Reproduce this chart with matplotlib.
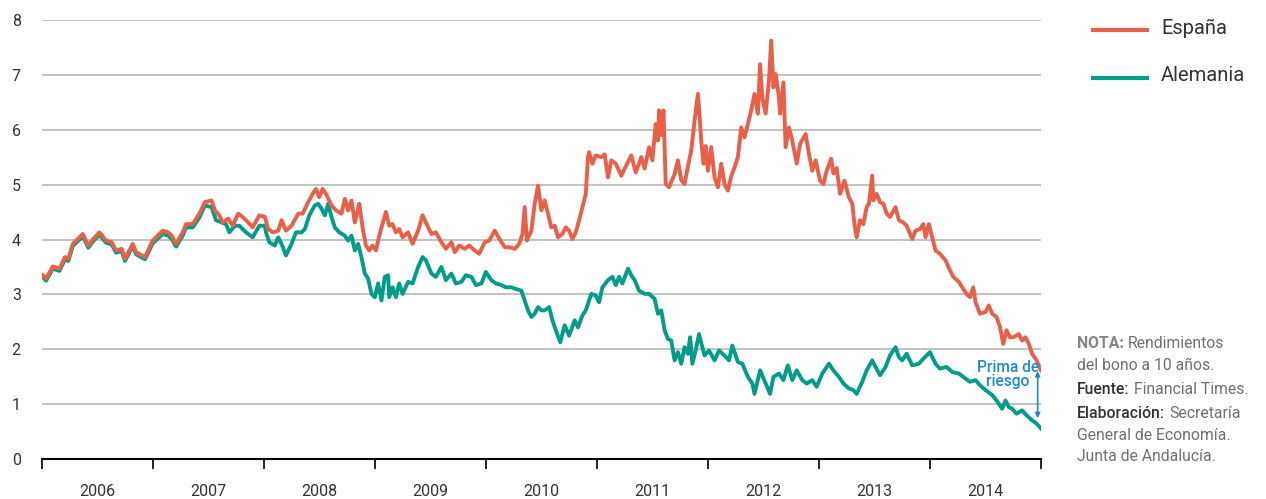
import numpy as np
import matplotlib
matplotlib.use("Agg")
import matplotlib.pyplot as plt
from matplotlib import font_manager
from matplotlib.lines import Line2D

plt.rcParams['font.family'] = ['Roboto', 'DejaVu Sans']

# ---------------- data (decimal years, % yield) ----------------
spain_t = [2006.01, 2006.04, 2006.10, 2006.16, 2006.21, 2006.24, 2006.28, 2006.37, 2006.42, 2006.46,
           2006.52, 2006.58, 2006.63, 2006.67, 2006.72, 2006.75, 2006.82, 2006.85, 2006.93, 2007.00,
           2007.09, 2007.14, 2007.17, 2007.21, 2007.27, 2007.30, 2007.36, 2007.42, 2007.47, 2007.53,
           2007.56, 2007.60, 2007.63, 2007.68, 2007.72, 2007.77, 2007.81, 2007.86, 2007.90, 2007.96,
           2008.01, 2008.04, 2008.08, 2008.13, 2008.16, 2008.20, 2008.25, 2008.31, 2008.35, 2008.40,
           2008.44, 2008.47, 2008.50, 2008.53, 2008.56, 2008.61, 2008.65, 2008.70, 2008.73, 2008.76,
           2008.79, 2008.82, 2008.86, 2008.89, 2008.92, 2008.95, 2008.98, 2009.01, 2009.03, 2009.06,
           2009.10, 2009.13, 2009.16, 2009.19, 2009.22, 2009.25, 2009.30, 2009.34, 2009.39, 2009.43,
           2009.46, 2009.51, 2009.55, 2009.60, 2009.64, 2009.69, 2009.72, 2009.76, 2009.81, 2009.85,
           2009.90, 2009.94, 2009.99, 2010.03, 2010.08, 2010.12, 2010.17, 2010.21, 2010.26, 2010.30,
           2010.33, 2010.35, 2010.37, 2010.41, 2010.44, 2010.47, 2010.50, 2010.53, 2010.56, 2010.59,
           2010.62, 2010.65, 2010.69, 2010.72, 2010.75, 2010.78, 2010.81, 2010.84, 2010.87, 2010.90,
           2010.92, 2010.93, 2010.96, 2010.99, 2011.04, 2011.07, 2011.10, 2011.13, 2011.17, 2011.22,
           2011.26, 2011.31, 2011.35, 2011.40, 2011.43, 2011.47, 2011.50, 2011.53, 2011.55, 2011.56,
           2011.58, 2011.60, 2011.62, 2011.65, 2011.70, 2011.73, 2011.76, 2011.79, 2011.82, 2011.85,
           2011.88, 2011.91, 2011.92, 2011.94, 2011.96, 2011.98, 2012.00, 2012.03, 2012.06, 2012.09,
           2012.12, 2012.15, 2012.18, 2012.21, 2012.24, 2012.27, 2012.30, 2012.33, 2012.36, 2012.39,
           2012.42, 2012.45, 2012.47, 2012.49, 2012.52, 2012.55, 2012.57, 2012.59, 2012.61, 2012.64,
           2012.65, 2012.68, 2012.70, 2012.73, 2012.76, 2012.80, 2012.83, 2012.88, 2012.91, 2012.94,
           2012.97, 2013.01, 2013.04, 2013.07, 2013.11, 2013.13, 2013.16, 2013.19, 2013.23, 2013.27,
           2013.30, 2013.32, 2013.34, 2013.37, 2013.40, 2013.43, 2013.45, 2013.48, 2013.49, 2013.52,
           2013.55, 2013.58, 2013.61, 2013.64, 2013.69, 2013.72, 2013.76, 2013.79, 2013.84, 2013.87,
           2013.91, 2013.94, 2013.96, 2013.99, 2014.02, 2014.05, 2014.09, 2014.14, 2014.18, 2014.21,
           2014.26, 2014.30, 2014.33, 2014.36, 2014.39, 2014.41, 2014.45, 2014.50, 2014.53, 2014.56,
           2014.60, 2014.63, 2014.66, 2014.69, 2014.72, 2014.75, 2014.80, 2014.83, 2014.86, 2014.89,
           2014.92, 2014.96, 2015.00]
spain_v = [3.35, 3.29, 3.51, 3.47, 3.68, 3.65, 3.92, 4.10, 3.89, 4.00,
           4.13, 3.98, 3.95, 3.80, 3.83, 3.65, 3.92, 3.77, 3.68, 3.98,
           4.16, 4.13, 4.07, 3.92, 4.13, 4.28, 4.28, 4.47, 4.68, 4.71,
           4.53, 4.44, 4.31, 4.38, 4.25, 4.47, 4.41, 4.31, 4.22, 4.44,
           4.41, 4.19, 4.13, 4.16, 4.35, 4.16, 4.25, 4.47, 4.47, 4.68,
           4.83, 4.92, 4.77, 4.92, 4.83, 4.62, 4.53, 4.47, 4.74, 4.53,
           4.71, 4.31, 4.65, 4.22, 3.89, 3.80, 3.89, 3.80, 3.98, 4.22,
           4.50, 4.25, 4.28, 4.13, 4.19, 4.04, 4.13, 3.92, 4.16, 4.44,
           4.31, 4.10, 4.13, 3.95, 3.83, 3.95, 3.77, 3.89, 3.83, 3.89,
           3.80, 3.74, 3.95, 3.98, 4.16, 4.02, 3.86, 3.86, 3.83, 3.92,
           4.10, 4.59, 3.98, 4.16, 4.65, 4.98, 4.53, 4.71, 4.47, 4.22,
           4.25, 4.04, 4.10, 4.22, 4.16, 4.01, 4.13, 4.35, 4.59, 4.83,
           5.50, 5.59, 5.38, 5.53, 5.50, 5.55, 5.13, 5.44, 5.38, 5.16,
           5.33, 5.53, 5.22, 5.50, 5.29, 5.68, 5.44, 6.10, 5.80, 6.35,
           5.90, 6.35, 5.01, 4.95, 5.19, 5.44, 5.08, 5.01, 5.33, 5.62,
           6.16, 6.65, 6.40, 5.80, 5.38, 5.70, 5.25, 5.68, 5.13, 4.95,
           5.38, 5.00, 4.89, 5.15, 5.31, 5.50, 6.04, 5.86, 6.10, 6.35,
           6.65, 6.29, 7.19, 6.58, 6.29, 6.89, 7.62, 6.77, 7.01, 6.59,
           6.29, 6.86, 5.68, 6.04, 5.80, 5.38, 5.74, 5.92, 5.56, 5.25,
           5.44, 5.07, 5.01, 5.25, 5.47, 5.20, 5.30, 4.83, 5.07, 4.77,
           4.65, 4.28, 4.04, 4.35, 4.28, 4.59, 4.65, 5.16, 4.71, 4.83,
           4.68, 4.65, 4.47, 4.41, 4.59, 4.35, 4.31, 4.25, 4.01, 4.16,
           4.19, 4.28, 4.04, 4.28, 4.04, 3.80, 3.74, 3.62, 3.44, 3.32,
           3.23, 3.10, 3.01, 2.95, 3.13, 2.86, 2.65, 2.68, 2.80, 2.65,
           2.59, 2.41, 2.10, 2.35, 2.22, 2.22, 2.28, 2.16, 2.22, 2.10,
           1.92, 1.80, 1.62]

germany_t = [2006.01, 2006.04, 2006.10, 2006.16, 2006.21, 2006.24, 2006.28, 2006.37, 2006.42, 2006.46,
             2006.52, 2006.58, 2006.63, 2006.67, 2006.72, 2006.75, 2006.82, 2006.85, 2006.93, 2007.00,
             2007.09, 2007.14, 2007.17, 2007.21, 2007.27, 2007.30, 2007.36, 2007.42, 2007.47, 2007.53,
             2007.57, 2007.62, 2007.66, 2007.69, 2007.74, 2007.78, 2007.84, 2007.90, 2007.96, 2008.01,
             2008.02, 2008.05, 2008.10, 2008.13, 2008.16, 2008.20, 2008.25, 2008.29, 2008.34, 2008.37,
             2008.41, 2008.46, 2008.49, 2008.52, 2008.55, 2008.58, 2008.61, 2008.64, 2008.68, 2008.73,
             2008.76, 2008.79, 2008.82, 2008.85, 2008.88, 2008.91, 2008.94, 2008.97, 2009.00, 2009.03,
             2009.06, 2009.09, 2009.12, 2009.13, 2009.16, 2009.19, 2009.22, 2009.25, 2009.30, 2009.34,
             2009.39, 2009.43, 2009.46, 2009.51, 2009.55, 2009.60, 2009.64, 2009.69, 2009.73, 2009.78,
             2009.82, 2009.87, 2009.91, 2009.96, 2010.00, 2010.05, 2010.09, 2010.14, 2010.18, 2010.23,
             2010.27, 2010.32, 2010.35, 2010.38, 2010.41, 2010.44, 2010.47, 2010.50, 2010.53, 2010.57,
             2010.60, 2010.63, 2010.67, 2010.71, 2010.75, 2010.80, 2010.83, 2010.87, 2010.90, 2010.95,
             2010.99, 2011.02, 2011.05, 2011.10, 2011.14, 2011.17, 2011.20, 2011.23, 2011.28, 2011.31,
             2011.34, 2011.38, 2011.43, 2011.47, 2011.52, 2011.55, 2011.58, 2011.61, 2011.64, 2011.67,
             2011.70, 2011.73, 2011.76, 2011.79, 2011.82, 2011.84, 2011.86, 2011.89, 2011.92, 2011.95,
             2011.97, 2012.01, 2012.06, 2012.10, 2012.15, 2012.19, 2012.22, 2012.27, 2012.31, 2012.36,
             2012.40, 2012.42, 2012.47, 2012.52, 2012.56, 2012.59, 2012.64, 2012.68, 2012.72, 2012.76,
             2012.80, 2012.85, 2012.89, 2012.94, 2012.98, 2013.03, 2013.09, 2013.13, 2013.18, 2013.22,
             2013.27, 2013.31, 2013.34, 2013.39, 2013.43, 2013.48, 2013.51, 2013.55, 2013.60, 2013.64,
             2013.69, 2013.72, 2013.75, 2013.79, 2013.84, 2013.90, 2013.94, 2014.00, 2014.05, 2014.09,
             2014.15, 2014.20, 2014.26, 2014.32, 2014.36, 2014.41, 2014.45, 2014.50, 2014.56, 2014.60,
             2014.65, 2014.68, 2014.71, 2014.74, 2014.78, 2014.83, 2014.87, 2014.92, 2014.96, 2015.00]
germany_v = [3.31, 3.25, 3.47, 3.43, 3.64, 3.61, 3.88, 4.06, 3.85, 3.96,
             4.09, 3.94, 3.91, 3.76, 3.79, 3.61, 3.88, 3.73, 3.64, 3.93,
             4.10, 4.07, 4.01, 3.87, 4.07, 4.22, 4.22, 4.40, 4.62, 4.59,
             4.35, 4.31, 4.28, 4.13, 4.25, 4.25, 4.13, 4.04, 4.25, 4.25,
             4.13, 3.95, 3.89, 4.04, 3.92, 3.71, 3.92, 4.13, 4.13, 4.19,
             4.44, 4.62, 4.65, 4.56, 4.44, 4.65, 4.41, 4.22, 4.13, 4.07,
             3.98, 4.07, 3.80, 3.92, 3.68, 3.38, 3.29, 3.01, 2.95, 3.20,
             2.89, 3.32, 3.35, 2.95, 3.13, 2.95, 3.20, 3.01, 3.23, 3.20,
             3.50, 3.68, 3.62, 3.38, 3.32, 3.50, 3.26, 3.38, 3.20, 3.23,
             3.35, 3.32, 3.17, 3.20, 3.41, 3.26, 3.20, 3.17, 3.13, 3.13,
             3.10, 3.07, 2.89, 2.71, 2.59, 2.65, 2.77, 2.71, 2.71, 2.77,
             2.53, 2.35, 2.13, 2.44, 2.25, 2.53, 2.40, 2.62, 2.71, 3.01,
             2.98, 2.86, 3.13, 3.26, 3.32, 3.17, 3.32, 3.20, 3.47, 3.35,
             3.26, 3.07, 3.01, 3.01, 2.92, 2.65, 2.71, 2.35, 2.19, 2.16,
             1.80, 1.95, 1.74, 2.04, 1.92, 2.22, 1.74, 1.98, 2.28, 2.04,
             1.89, 1.98, 1.80, 1.98, 1.89, 1.80, 2.07, 1.77, 1.74, 1.50,
             1.38, 1.19, 1.62, 1.38, 1.19, 1.50, 1.56, 1.44, 1.71, 1.44,
             1.62, 1.44, 1.38, 1.44, 1.32, 1.56, 1.74, 1.62, 1.50, 1.38,
             1.29, 1.26, 1.19, 1.41, 1.62, 1.80, 1.68, 1.53, 1.68, 1.89,
             2.04, 1.86, 1.80, 1.92, 1.71, 1.74, 1.83, 1.95, 1.74, 1.65,
             1.68, 1.59, 1.56, 1.47, 1.41, 1.44, 1.35, 1.26, 1.17, 1.07,
             0.92, 1.07, 0.95, 0.92, 0.83, 0.89, 0.80, 0.71, 0.65, 0.56]

years = list(range(2006, 2016))
year_labels = [str(y) for y in range(2006, 2015)]
y_ticks = list(range(0, 9))
series_names = ["España", "Alemania"]

# ---------------- style ----------------
C_ES = "#EA5F48"
C_DE = "#009E88"
C_GRID = "#BDBDBD"
C_TXT = "#333333"
C_GREY = "#707070"
C_BLUE = "#1E8BCB"

W, H = 1266, 499
fig = plt.figure(figsize=(W / 100, H / 100), dpi=100)
ax = fig.add_axes([41.7 / W, 1 - 459.3 / H, (1041 - 41.7) / W, (459.3 - 19.7) / H])
ax.set_xlim(years[0], years[-1])
ax.set_ylim(0, 8)

for yv in y_ticks[1:]:
    ax.axhline(yv, color=C_GRID, lw=1.3, zorder=1)

ax.plot(germany_t, germany_v, color=C_DE, lw=2.8, zorder=3, solid_joinstyle='round')
ax.plot(spain_t, spain_v, color=C_ES, lw=2.8, zorder=4, solid_joinstyle='round')

for s in ("left", "right", "top"):
    ax.spines[s].set_visible(False)
ax.spines["bottom"].set_color("black")
ax.spines["bottom"].set_linewidth(1.5)

ax.set_yticks(y_ticks)
ax.set_yticklabels([str(v) for v in y_ticks])
ax.tick_params(axis='y', length=0, pad=15, labelsize=11.5, labelcolor=C_TXT)

ax.set_xticks(years)
ax.set_xticklabels([""] * len(years))
ax.tick_params(axis='x', which='major', length=7, width=1.2, color='black', direction='out')
ax.set_xticks([y + 0.5 for y in years[:-1]], minor=True)
ax.set_xticklabels(year_labels, minor=True)
ax.tick_params(axis='x', which='minor', length=0, pad=18, labelsize=11.5, labelcolor=C_TXT)

# ---------------- "Prima de riesgo" annotation ----------------
x_arr = spain_t[-1] - 0.03
top = np.interp(x_arr, spain_t, spain_v) - 0.15
bot = np.interp(x_arr, germany_t, germany_v) + 0.12
ax.annotate('', xy=(x_arr, bot), xytext=(x_arr, top),
            arrowprops=dict(arrowstyle='<|-|>', color=C_BLUE, lw=1.2,
                            mutation_scale=7, shrinkA=0, shrinkB=0), zorder=5)
ax.text(2014.70, 1.59, "Prima de", color=C_BLUE, fontsize=11.2, fontweight='medium',
        ha='center', va='baseline', zorder=5)
ax.text(2014.70, 1.33, "riesgo", color=C_BLUE, fontsize=11.2, fontweight='medium',
        ha='center', va='baseline', zorder=5)

# ---------------- legend ----------------
for name, col, yp in [(series_names[0], C_ES, 30), (series_names[1], C_DE, 77.7)]:
    fig.add_artist(Line2D([1091 / W, 1149 / W], [1 - yp / H, 1 - yp / H],
                          color=col, lw=3.0, solid_capstyle='butt'))
    fig.text(1161 / W, 1 - (yp + 3.5) / H, name, fontsize=14.5, color=C_TXT,
             ha='left', va='baseline')

# ---------------- notes ----------------
renderer = fig.canvas.get_renderer()


def two_part(x_px, base_px, first, second, c1, w1, c2, size=11.3):
    t1 = fig.text(x_px / W, 1 - base_px / H, first, fontsize=size, color=c1,
                  fontweight=w1, ha='left', va='baseline')
    if second:
        bb = t1.get_window_extent(renderer=renderer)
        fig.text((bb.x1 + 4) / W, 1 - base_px / H, second, fontsize=size, color=c2,
                 ha='left', va='baseline')


two_part(1077, 348.5, "NOTA:", "Rendimientos", "#858585", 'bold', C_GREY)
two_part(1077, 370, "del bono a 10 años.", None, C_GREY, 'normal', C_GREY)
two_part(1077, 394, "Fuente:", "Financial Times.", C_TXT, 'medium', C_GREY)
two_part(1077, 418, "Elaboración:", "Secretaría", C_TXT, 'medium', C_GREY)
two_part(1077, 440, "General de Economía.", None, C_GREY, 'normal', C_GREY)
two_part(1077, 461, "Junta de Andalucía.", None, C_GREY, 'normal', C_GREY)

fig.savefig("out.png", dpi=100)
